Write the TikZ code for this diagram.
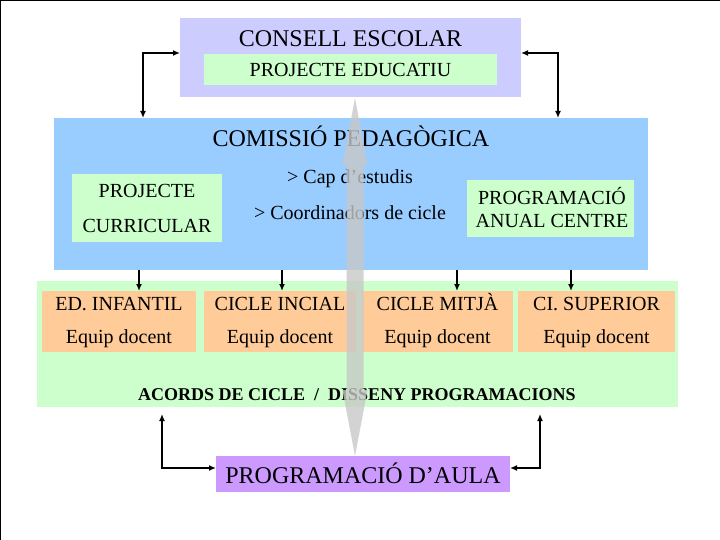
\documentclass[tikz,border=0pt]{standalone}
\usepackage{fontspec}
\setmainfont{Liberation Serif}
\usetikzlibrary{arrows.meta,calc}
\definecolor{lav}{RGB}{204,204,255}
\definecolor{lgreen}{RGB}{204,255,204}
\definecolor{lblue}{RGB}{153,204,255}
\definecolor{lorange}{RGB}{255,204,153}
\definecolor{lpurple}{RGB}{204,153,255}
\definecolor{garrow}{RGB}{200,200,200}
\begin{document}
\begin{tikzpicture}[x=1pt,y=-1pt,
  box/.style={anchor=north west, inner sep=0pt, outer sep=0pt},
  txt/.style={inner sep=0pt, anchor=base, text=black, font=\fontsize{20}{24}\selectfont},
  big/.style={txt, font=\fontsize{24}{28}\selectfont},
  conn/.style={line width=2pt, -{Latex[length=7pt,width=6pt]}},
  conn2/.style={line width=2pt, {Latex[length=7pt,width=6pt]}-{Latex[length=7pt,width=6pt]}}]
\useasboundingbox (0,0) rectangle (720,540);
\fill[white] (0,0) rectangle (720,540);
\draw[line width=2.5pt] (0,540) -- (0,0) -- (720,0);

% Consell escolar
\node[box, fill=lav, minimum width=341pt, minimum height=79pt] (cs) at (180,18) {};
\node[big] (cst) at (350.5,46.5) {CONSELL ESCOLAR};
\node[box, fill=lgreen, minimum width=293pt, minimum height=31pt] (pe) at (204,54) {};
\node[txt] (pet) at (350.5,77) {PROJECTE EDUCATIU};

% Comissio pedagogica
\node[box, fill=lblue, minimum width=594pt, minimum height=152pt] (com) at (54,118) {};
\node[big] (comt) at (351,147) {COMISSIÓ PEDAGÒGICA};
\node[box, fill=lgreen, minimum width=150pt, minimum height=68pt] (pc) at (72,174) {};
\node[txt] (pc1) at (147,197) {PROJECTE};
\node[txt] (pc2) at (147,233) {CURRICULAR};
\node[txt] (cap) at (350,184) {> Cap d’estudis};
\node[txt] (coo) at (350,220) {> Coordinadors de cicle};
\node[box, fill=lgreen, minimum width=167pt, minimum height=57pt] (pac) at (467,180) {};
\node[txt] (pac1) at (552,205) {PROGRAMACIÓ};
\node[txt] (pac2) at (552,228) {ANUAL CENTRE};

% Cicles
\node[box, fill=lgreen, minimum width=641pt, minimum height=126pt] (acc) at (37,281) {};
\node[box, fill=lorange, minimum width=154pt, minimum height=61pt] (o1) at (42,291) {};
\node[box, fill=lorange, minimum width=152pt, minimum height=61pt] (o2) at (204,291) {};
\node[box, fill=lorange, minimum width=151pt, minimum height=61pt] (o3) at (362,291) {};
\node[box, fill=lorange, minimum width=157pt, minimum height=61pt] (o4) at (518,291) {};
\node[txt] (o1a) at (o1.north |- 0,310) {ED. INFANTIL};
\node[txt] (o2a) at (o2.north |- 0,310) {CICLE INCIAL};
\node[txt] (o3a) at (o3.north |- 0,310) {CICLE MITJÀ};
\node[txt] (o4a) at (o4.north |- 0,310) {CI. SUPERIOR};
\node[txt] (o1b) at (o1.north |- 0,343) {Equip docent};
\node[txt] (o2b) at (o2.north |- 0,343) {Equip docent};
\node[txt] (o3b) at (o3.north |- 0,343) {Equip docent};
\node[txt] (o4b) at (o4.north |- 0,343) {Equip docent};
\node[txt, font=\fontsize{18}{21}\selectfont\bfseries] (acct) at (357,400) {ACORDS DE CICLE \ / \ DISSENY PROGRAMACIONS};

% Programacio d'aula
\node[box, fill=lpurple, minimum width=294pt, minimum height=36pt] (aula) at (216,456) {};
\node[big] (aulat) at (363,483) {PROGRAMACIÓ D’AULA};

% connectors
\coordinate (tl) at (143,53);
\coordinate (tr) at (558,53);
\draw[conn2] (tl -| cs.west) -- (tl) -- (tl |- com.north);
\draw[conn2] (tr -| cs.east) -- (tr) -- (tr |- com.north);
\foreach \i/\xx in {1/139,2/282,3/457,4/571}{
  \coordinate (d\i) at (\xx,0);
  \draw[conn] (d\i |- com.south) -- (d\i |- o\i.north);
}
\coordinate (bl) at (162,468);
\coordinate (br) at (540,468);
\draw[conn2] ($(bl |- acc.south)+(0,7)$) -- (bl) -- (bl -| aula.west);
\draw[conn2] ($(br |- acc.south)+(0,7)$) -- (br) -- (br -| aula.east);

% big gray double arrow
\coordinate (gt) at (355,98);
\coordinate (gb) at (aula.north -| gt);
\fill[garrow, opacity=0.8] (gt) -- ++(12.5,67) -- ++(-4,0) -- ($(gb)+(8.5,-66)$) -- ++(4,0)
  -- (gb) -- ++(-12.5,-66) -- ++(4,0) -- ($(gt)+(-8.5,67)$) -- ++(-4,0) -- cycle;
\end{tikzpicture}
\end{document}
